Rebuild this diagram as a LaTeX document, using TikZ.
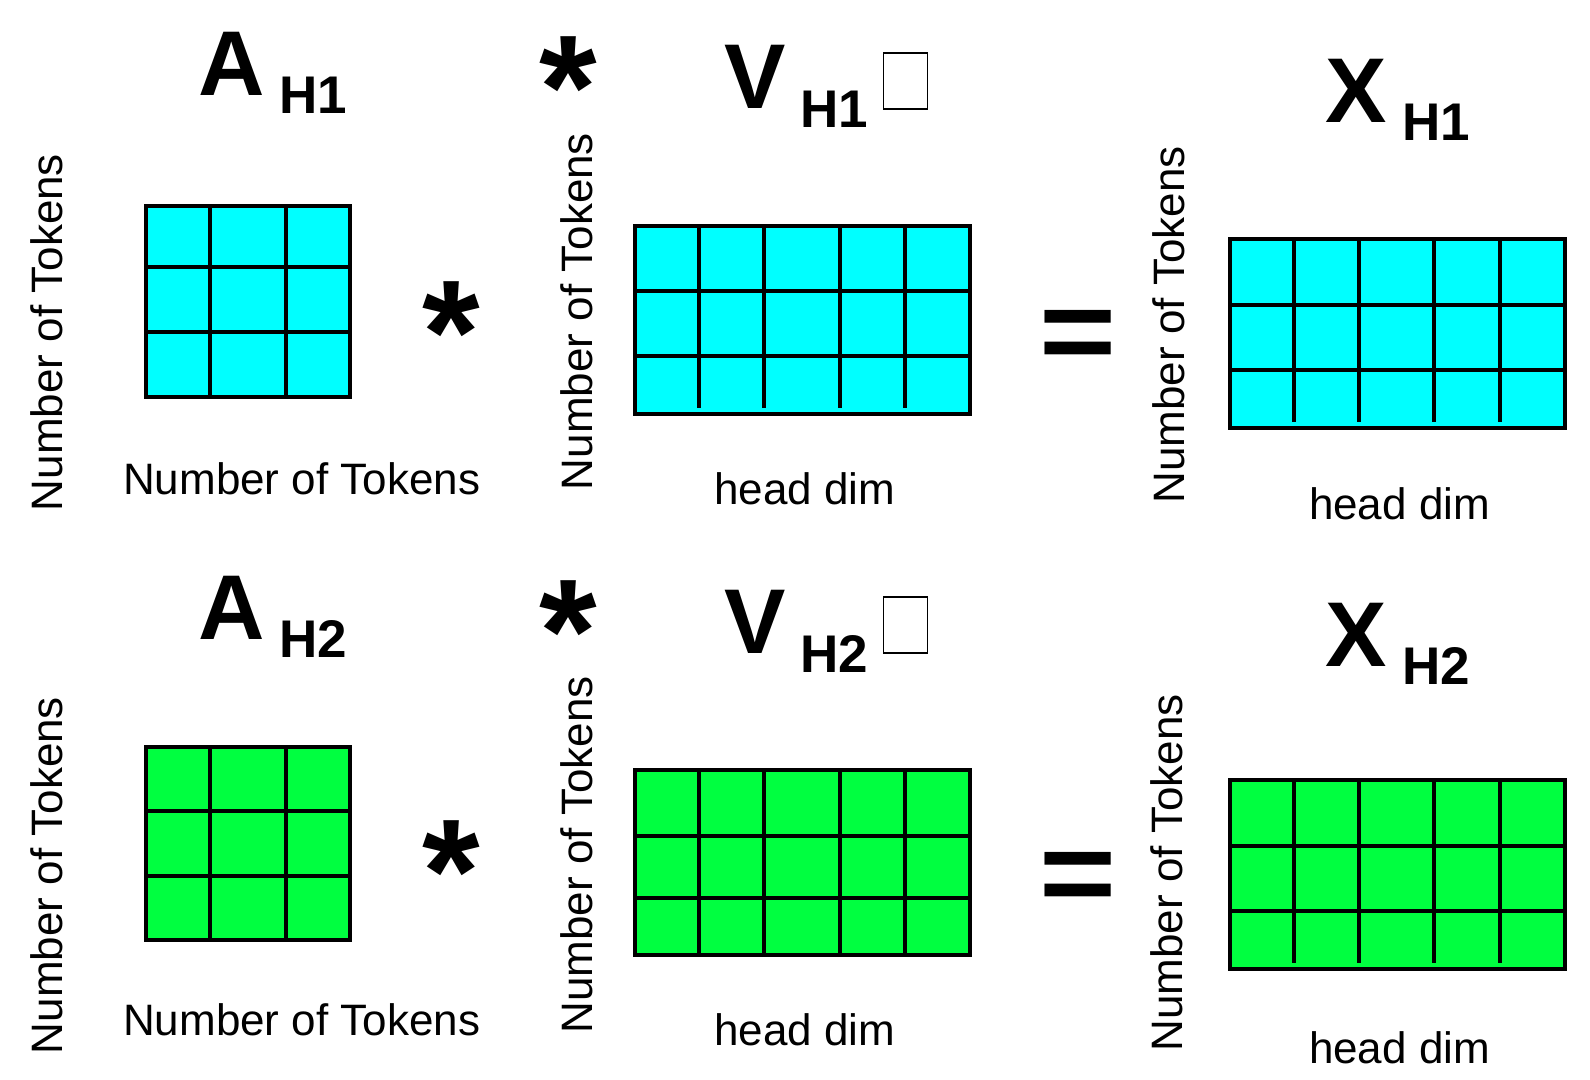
\documentclass[tikz,border=0pt]{standalone}
\usepackage{fontspec}
\setmainfont{Liberation Sans}
\definecolor{cy}{HTML}{00FFFF}
\definecolor{gr}{HTML}{00FF40}
\newcommand\mygrid[8]{%
  \fill[#7] (#1,#2) rectangle (#3,#4);
  \foreach \hh in {#6} \draw[cell] (#1,\hh) -- (#3,\hh);
  \foreach \vv in {#5} \draw[cell] (\vv,#2) -- (\vv,#8);
  \draw[cell] (#1,#2) rectangle (#3,#4);
}
\begin{document}
\begin{tikzpicture}[x=1pt,y=-1pt,
  cell/.style={line width=4pt},
  lbl/.style={font=\fontsize{44}{50}\selectfont, inner sep=0pt, anchor=base},
  big/.style={font=\fontsize{92}{100}\selectfont\bfseries, inner sep=0pt, anchor=center},
  sub/.style={font=\fontsize{53}{60}\selectfont\bfseries, inner sep=0pt, anchor=base},
  op/.style={font=\fontsize{148}{160}\selectfont\bfseries, inner sep=0pt, anchor=base},
  eq/.style={font=\fontsize{132}{140}\selectfont\bfseries, inner sep=0pt, anchor=center, yscale=0.89},
  tofu/.style={draw, line width=1.5pt, minimum width=44pt, minimum height=56pt, inner sep=0pt}]
\useasboundingbox (0,0) rectangle (1590,1079);

% ---------- row 1 ----------
\begin{scope}
\mygrid{146}{206}{349.7}{397}{210.3,285.7}{266.7,331.7}{cy}{397}
\mygrid{634.5}{226}{969.5}{414}{699.3,764.3,840,905}{290.7,356}{cy}{408}
\mygrid{1229.5}{239.3}{1564.7}{427.7}{1294.3,1359.3,1434.3,1499.7}{305,369.7}{cy}{421.5}
\node[big] (a1) at (231.5,64) {A};
\node[sub] (a1s) at (313.5,113) {H1};
\node[op] (s1t) at (568,138) {*};
\node[big] (v1) at (754.7,77) {V};
\node[sub] (v1s) at (834.5,127.3) {H1};
\node[tofu] (b1) at (905.5,80.8) {};
\node[big] (x1) at (1356.3,91) {X};
\node[sub] (x1s) at (1436,140) {H1};
\node[op] (s1m) at (451.3,383.6) {*};
\node[eq] (e1) at (1078,340.7) {=};
\node[lbl] (la1) at (301.7,494) {Number of Tokens};
\node[lbl, rotate=90] (lr1) at (62.8,332.5) {Number of Tokens};
\node[lbl, rotate=90] (lv1) at (592.3,311.5) {Number of Tokens};
\node[lbl, rotate=90] (lx1) at (1184,325) {Number of Tokens};
\node[lbl] (hv1) at (804.7,504.3) {head dim};
\node[lbl] (hx1) at (1399.5,519) {head dim};
\end{scope}

% ---------- row 2 ----------
\begin{scope}[yshift=-541pt]
\mygrid{146}{206}{349.7}{399}{210.3,285.7}{270,335}{gr}{399}
\mygrid{634.5}{229}{969.5}{414}{699.3,764.3,840,905}{295,356.5}{gr}{414}
\mygrid{1229.5}{239.3}{1564.7}{427.7}{1294.3,1359.3,1434.3,1499.7}{305,369.7}{gr}{421.5}
\node[big] (a2) at (231.5,67) {A};
\node[sub] (a2s) at (313.5,116) {H2};
\node[op] (s2t) at (568,141) {*};
\node[big] (v2) at (754.7,80.5) {V};
\node[sub] (v2s) at (834.5,131) {H2};
\node[tofu] (b2) at (905.5,83.8) {};
\node[big] (x2) at (1356.3,94) {X};
\node[sub] (x2s) at (1436,143) {H2};
\node[op] (s2m) at (451.3,381) {*};
\node[eq] (e2) at (1078,341.7) {=};
\node[lbl] (la2) at (301.7,494) {Number of Tokens};
\node[lbl, rotate=90] (lr2) at (62.8,334.5) {Number of Tokens};
\node[lbl, rotate=90] (lv2) at (592.3,314) {Number of Tokens};
\node[lbl, rotate=90] (lx2) at (1182.5,332) {Number of Tokens};
\node[lbl] (hv2) at (804.7,504.3) {head dim};
\node[lbl] (hx2) at (1399.5,522) {head dim};
\end{scope}
\end{tikzpicture}
\end{document}
